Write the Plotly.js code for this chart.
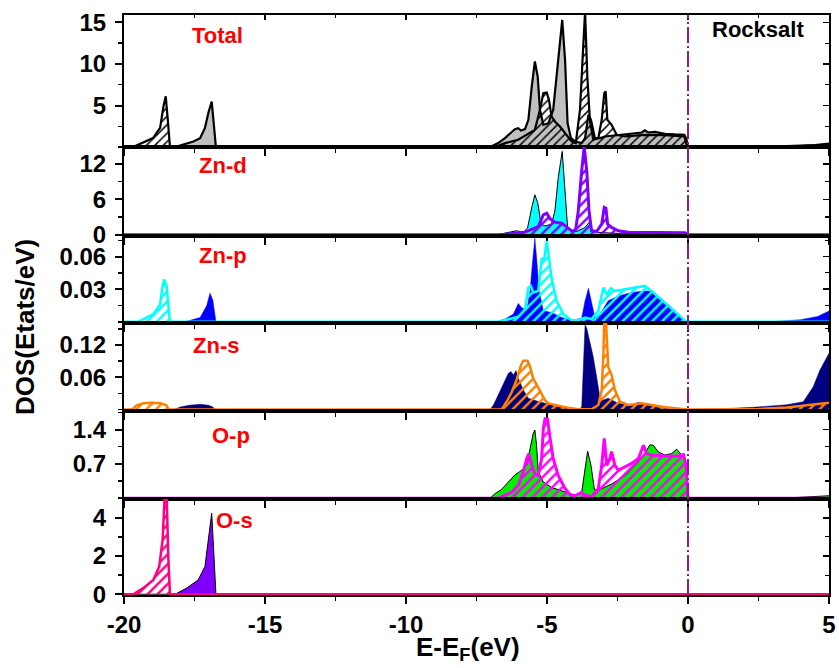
<!DOCTYPE html>
<html>
<head>
<meta charset="utf-8">
<script src="https://cdn.plot.ly/plotly-3.0.1.min.js"></script>
<style>
  html, body { margin: 0; padding: 0; background: #fff; }
  #chart { width: 839px; height: 668px; }
</style>
</head>
<body>
<div id="chart"></div>
<script>
// ---- Energy axis (E - E_F, eV) ----
const xTickVals = [-20, -15, -10, -5, 0, 5];
const xTickText = ['-20', '-15', '-10', '-5', '0', '5'];

// ---- Panel labels ----
const panelNames = ['Total', 'Zn-d', 'Zn-p', 'Zn-s', 'O-p', 'O-s'];
const phaseName = 'Rocksalt';

// ---- Y tick labels per panel ----
const totalTicks = [5, 10, 15];
const totalTickText = ['5', '10', '15'];
const znDTicks = [0, 6, 12];
const znDTickText = ['0', '6', '12'];
const znPTicks = [0.03, 0.06];
const znPTickText = ['0.03', '0.06'];
const znSTicks = [0.06, 0.12];
const znSTickText = ['0.06', '0.12'];
const oPTicks = [0.7, 1.4];
const oPTickText = ['0.7', '1.4'];
const oSTicks = [0, 2, 4];
const oSTickText = ['0', '2', '4'];

// ---- Total DOS ----
const totalSolidE = [-20, -18.19, -17.54, -17.30, -17.13, -17.01, -16.89, -16.83, -16.74,
  -7.02, -6.73, -6.49, -6.31, -6.14, -6.02, -5.92, -5.78, -5.66, -5.54, -5.43, -5.33, -5.25, -5.13,
  -4.95, -4.78, -4.66, -4.54, -4.46, -4.36, -4.27, -4.15, -4.01, -3.77, -3.65, -3.53, -3.44, -3.30,
  -3.12, -2.94, -2.71, -2.47, -2.0, -1.64, -1.53, -1.41, -1.17, -0.82, -0.46, -0.13, -0.06, 0, 0.05,
  2.0, 3.5, 4.5, 5];
const totalSolidDOS = [0, 0, 0.67, 1.07, 2.3, 4.1, 5.48, 3.4, 0,
  0, 0.47, 1.07, 1.59, 2.15, 2.27, 1.99, 2.15, 3.28, 7.29, 10.3, 8.5, 4.48, 2.67,
  2.87, 4.48, 8.5, 13.3, 15.3, 10.5, 2.87, 1.07, 0.67, 0.47, 1.07, 3.9, 3.28, 1.07,
  1.07, 1.27, 1.35, 1.43, 1.59, 1.75, 2.0, 1.75, 1.83, 1.59, 1.51, 1.47, 1.0, 0, 0,
  0.03, 0.1, 0.22, 0.4];
const totalHatchE = [-20, -19.68, -18.97, -18.72, -18.60, -18.52, -18.45, -18.37,
  -6.85, -6.49, -6.02, -5.72, -5.43, -5.25, -5.13, -5.01, -4.93, -4.84, -4.72, -4.54, -4.30,
  -4.13, -3.98, -3.83, -3.74, -3.65, -3.57, -3.48, -3.36, -3.18, -3.06, -2.97, -2.92, -2.86,
  -2.71, -2.53, -2.23, -1.52, -0.82, -0.13, -0.03, 0.05, 2.5, 4, 5];
const totalHatchDOS = [0, 0, 1.07, 2.3, 4.9, 6.1, 3.4, 0,
  0, 0.47, 0.87, 1.47, 2.07, 4.48, 6.49, 6.57, 5.68, 3.68, 3.08, 2.47, 1.47,
  0.67, 0.47, 4.48, 10.5, 16.3, 8.5, 3.28, 0.87, 1.07, 3.28, 6.49, 6.7, 3.28,
  2.67, 1.47, 1.27, 1.47, 1.43, 1.27, 0, 0, 0.02, 0.1, 0.25];

// ---- Zn-d PDOS ----
const znDSolidE = [-20, -6.84, -6.49, -6.08, -5.84, -5.69, -5.54, -5.43, -5.33, -5.21, -5.07,
  -4.84, -4.72, -4.60, -4.46, -4.36, -4.27, -4.15, -3.95, -3.65, -3.51, -3.36, -3.12, -2.47,
  -0.11, 0, 5];
const znDSolidDOS = [0, 0, 0.28, 0.68, 0.45, 1.14, 4.63, 6.76, 5.46, 1.8, 1.5,
  1.8, 4.05, 9.7, 14.1, 6.9, 1.24, 0.56, 0.56, 1.24, 2.08, 0.56, 0.39, 0.23,
  0.2, 0, 0];
const znDHatchE = [-20, -6.61, -5.78, -5.31, -5.13, -5.01, -4.89, -4.72, -4.48, -4.24, -4.10,
  -3.98, -3.89, -3.77, -3.68, -3.59, -3.51, -3.42, -3.24, -3.06, -2.97, -2.91, -2.85, -2.71,
  -2.47, -2.12, -0.11, 0, 5];
const znDHatchDOS = [0, 0, 0.45, 1.4, 3.38, 3.66, 2.7, 2.14, 1.97, 1.12, 0.56,
  0.96, 4.05, 10.8, 14.9, 10.8, 4.05, 0.68, 0.56, 1.8, 4.63, 4.5, 1.8, 1.24,
  0.68, 0.45, 0.34, 0, 0];

// ---- Zn-p PDOS ----
const znPSolidE = [-20, -17.84, -17.30, -17.07, -16.95, -16.85, -16.74,
  -6.79, -6.49, -6.19, -6.02, -5.90, -5.72, -5.60, -5.51, -5.43, -5.36, -5.28, -5.13, -4.84,
  -4.48, -4.07, -3.77, -3.65, -3.53, -3.42, -3.30, -3.12, -2.83, -2.47, -2.0, -1.53, -1.29,
  -0.93, -0.46, -0.11, 0, 2.9, 4.0, 4.6, 5];
const znPSolidDOS = [0, 0, 0.004, 0.0147, 0.0263, 0.02, 0,
  0, 0.0025, 0.0071, 0.0169, 0.0132, 0.0101, 0.0284, 0.056, 0.0768, 0.056, 0.0284, 0.0101, 0.0086,
  0.004, 0.0015, 0.0034, 0.0193, 0.0309, 0.0193, 0.004, 0.0071, 0.0193, 0.0238, 0.027, 0.0284, 0.028,
  0.021, 0.0101, 0.001, 0, 0, 0.002, 0.005, 0.01];
const znPHatchE = [-20, -19.5, -18.96, -18.72, -18.63, -18.57, -18.49, -18.43, -18.37,
  -6.73, -6.02, -5.78, -5.66, -5.57, -5.49, -5.31, -5.19, -5.09, -5.01, -4.93, -4.84, -4.66,
  -4.42, -4.13, -3.89, -3.65, -3.42, -3.18, -3.0, -2.88, -2.73, -2.59, -2.23, -1.76, -1.53,
  -1.29, -0.82, -0.34, -0.05, 5];
const znPHatchDOS = [0, 0, 0.007, 0.016, 0.033, 0.039, 0.033, 0.014, 0,
  0, 0.0046, 0.0116, 0.0315, 0.033, 0.027, 0.0284, 0.0575, 0.059, 0.0743, 0.059, 0.0407, 0.0193,
  0.0071, 0.0015, 0.0015, 0.004, 0.0025, 0.0101, 0.0315, 0.0254, 0.0309, 0.0284, 0.03, 0.0315, 0.033,
  0.0284, 0.0177, 0.0071, 0, 0];

// ---- Zn-s PDOS ----
const znSSolidE = [-20, -18.23, -18.0, -17.7, -17.3, -17.0, -16.85, -16.77,
  -7.02, -6.90, -6.73, -6.55, -6.37, -6.28, -6.19, -6.10, -6.02, -5.84, -5.66, -5.31, -4.83,
  -4.24, -3.89, -3.77, -3.71, -3.65, -3.59, -3.47, -3.36, -3.24, -3.12, -3.0, -2.83, -2.47,
  -2.0, -1.76, -1.53, -1.05, -0.46, 0, 1.0, 2.32, 3.5, 4.09, 4.44, 4.68, 5];
const znSSolidDOS = [0, 0, 0.005, 0.008, 0.0098, 0.008, 0.005, 0,
  0, 0.0085, 0.027, 0.0457, 0.0674, 0.0706, 0.0643, 0.0725, 0.058, 0.0364, 0.021, 0.015, 0.0085,
  0.0024, 0.0005, 0.0045, 0.092, 0.157, 0.151, 0.126, 0.098, 0.061, 0.021, 0.018, 0.021, 0.0117,
  0.0085, 0.0135, 0.0104, 0.004, 0.0011, 0, 0.001, 0.0043, 0.009, 0.0147, 0.0425, 0.0736, 0.1046];
const znSHatchE = [-20, -19.72, -19.55, -19.3, -19.0, -18.7, -18.5, -18.42,
  -6.61, -6.43, -6.25, -6.08, -5.92, -5.84, -5.69, -5.60, -5.49, -5.31, -5.07, -4.95, -4.72,
  -4.36, -3.89, -3.42, -3.18, -3.06, -3.0, -2.97, -2.91, -2.83, -2.71, -2.59, -2.41, -2.12,
  -1.64, -1.29, -0.82, -0.11, 0, 2.5, 3.5, 5];
const znSHatchDOS = [0, 0, 0.008, 0.012, 0.0128, 0.012, 0.008, 0,
  0, 0.0146, 0.0327, 0.055, 0.0829, 0.0909, 0.0909, 0.0797, 0.058, 0.0396, 0.0176, 0.0116, 0.0085,
  0.0042, 0.0005, 0.0005, 0.0085, 0.0364, 0.1046, 0.166, 0.166, 0.0797, 0.0643, 0.0364, 0.0146, 0.0085,
  0.0116, 0.0085, 0.0042, 0.0005, 0, 0.001, 0.004, 0.0128];

// ---- O-p PDOS ----
const oPSolidE = [-20, -7.02, -6.84, -6.61, -6.37, -6.13, -6.02, -5.90, -5.72, -5.60, -5.49,
  -5.43, -5.37, -5.31, -5.13, -4.84, -4.36, -4.01, -3.77, -3.65, -3.56, -3.44, -3.32, -3.18,
  -2.71, -2.23, -1.76, -1.53, -1.35, -1.23, -1.05, -0.82, -0.58, -0.40, -0.28, -0.13, -0.05,
  0.03, 3.5, 5];
const oPSolidDOS = [0, 0, 0.094, 0.18, 0.33, 0.48, 0.52, 0.57, 0.67, 1.01, 1.32,
  1.39, 1.08, 0.54, 0.33, 0.22, 0.12, 0.06, 0.12, 0.60, 0.96, 0.67, 0.18, 0.16,
  0.29, 0.46, 0.74, 0.91, 1.09, 1.08, 0.94, 0.88, 0.91, 1.0, 0.91, 0.81, 0.47,
  0, 0.005, 0.05];
const oPHatchE = [-20, -6.73, -6.25, -6.02, -5.84, -5.72, -5.64, -5.54, -5.43, -5.31, -5.19,
  -5.13, -5.07, -4.98, -4.89, -4.78, -4.60, -4.36, -4.18, -4.01, -3.77, -3.65, -3.42, -3.18,
  -3.06, -2.97, -2.88, -2.77, -2.71, -2.59, -2.47, -2.0, -1.76, -1.58, -1.47, -1.29, -0.82,
  -0.34, -0.16, -0.07, 0, 5];
const oPHatchDOS = [0, 0, 0.12, 0.26, 0.54, 0.81, 0.91, 0.67, 0.49, 0.46, 0.81,
  1.42, 1.62, 1.61, 1.22, 0.81, 0.46, 0.2, 0.07, 0.05, 0.12, 0.06, 0.03, 0.2,
  0.67, 1.22, 0.67, 0.81, 0.95, 0.67, 0.57, 0.71, 0.81, 1.08, 0.91, 0.88, 0.86,
  0.86, 0.89, 0.67, 0, 0];

// ---- O-s PDOS ----
const oSSolidE = [-20, -18.19, -17.78, -17.37, -17.13, -17.01, -16.89, -16.84, -16.74, 5];
const oSSolidDOS = [0, 0, 0.32, 0.75, 1.45, 2.86, 4.23, 2.86, 0, 0];
const oSHatchE = [-20, -19.67, -19.32, -18.96, -18.75, -18.63, -18.55, -18.49, -18.43, -18.37, 5];
const oSHatchDOS = [0, 0, 0.32, 0.75, 1.45, 2.86, 5.4, 5.4, 1.98, 0, 0];

const FONT = 'Liberation Sans, Arial, sans-serif';

function solidTrace(x, y, n, fill, line, width) {
  return {
    type: 'scatter', mode: 'lines', x: x, y: y,
    xaxis: n === 1 ? 'x' : 'x' + n, yaxis: n === 1 ? 'y' : 'y' + n,
    fill: 'tozeroy', fillcolor: fill,
    line: { color: line, width: width },
    hoverinfo: 'skip', showlegend: false
  };
}

function hatchTrace(x, y, n, color, width, size, solidity) {
  return {
    type: 'scatter', mode: 'lines', x: x, y: y,
    xaxis: n === 1 ? 'x' : 'x' + n, yaxis: n === 1 ? 'y' : 'y' + n,
    fill: 'tozeroy', fillcolor: 'rgba(0,0,0,0)',
    fillpattern: { shape: '/', fgcolor: color, bgcolor: 'rgba(0,0,0,0)', size: size, solidity: solidity },
    line: { color: color, width: width },
    hoverinfo: 'skip', showlegend: false
  };
}

const traces = [
  solidTrace(totalSolidE, totalSolidDOS, 1, '#C0C0C0', '#000000', 2.2),
  hatchTrace(totalHatchE, totalHatchDOS, 1, '#000000', 2.2, 6, 0.25),
  solidTrace(znDSolidE, znDSolidDOS, 2, '#00FFFF', '#000000', 1),
  hatchTrace(znDHatchE, znDHatchDOS, 2, '#7F00FF', 3, 7, 0.35),
  solidTrace(znPSolidE, znPSolidDOS, 3, '#0000FF', '#0000FF', 0.5),
  hatchTrace(znPHatchE, znPHatchDOS, 3, '#00FFFF', 2.5, 7, 0.35),
  solidTrace(znSSolidE, znSSolidDOS, 4, '#000080', '#000080', 0.5),
  hatchTrace(znSHatchE, znSHatchDOS, 4, '#FF8000', 2.5, 7, 0.35),
  solidTrace(oPSolidE, oPSolidDOS, 5, '#00F000', '#000000', 1),
  hatchTrace(oPHatchE, oPHatchDOS, 5, '#FF00FF', 3, 7, 0.35),
  solidTrace(oSSolidE, oSSolidDOS, 6, '#8000FF', '#000000', 1),
  hatchTrace(oSHatchE, oSHatchDOS, 6, '#FF0080', 2.5, 7, 0.35)
];

// empty traces so the inward-tick frame axes are drawn
traces.push({ x: [null], y: [null], xaxis: 'x7', yaxis: 'y', mode: 'lines', showlegend: false, hoverinfo: 'skip' });
for (let i = 1; i <= 6; i++) {
  traces.push({ x: [null], y: [null], xaxis: i === 1 ? 'x' : 'x' + i, yaxis: 'y' + (i + 6),
    mode: 'lines', showlegend: false, hoverinfo: 'skip' });
}

const domains = [[0.7724, 1], [0.6195, 0.7724], [0.4695, 0.6195], [0.3178, 0.4695], [0.1655, 0.3178], [0, 0.1655]];
const ranges = [[0, 15.9], [-0.15, 14.85], [-0.0008, 0.0792], [-0.002, 0.1614], [-0.016, 1.784], [-0.04, 4.98]];
const yTicks = [totalTicks, znDTicks, znPTicks, znSTicks, oPTicks, oSTicks];
const yTickText = [totalTickText, znDTickText, znPTickText, znSTickText, oPTickText, oSTickText];
const yMinor = [2.5, 3, 0.015, 0.03, 0.35, 1];

const layout = {
  width: 839, height: 668,
  margin: { l: 124, r: 10, t: 15, b: 73 },
  paper_bgcolor: '#fff', plot_bgcolor: '#fff',
  showlegend: false, hovermode: false,
  font: { family: FONT, color: '#000' },
  shapes: [{
    type: 'line', xref: 'x', yref: 'paper', x0: 0, x1: 0, y0: 0, y1: 1,
    line: { color: '#8E1C8E', width: 2, dash: '16px,3px,2px,3px' }, layer: 'above'
  }],
  annotations: []
};

for (let i = 1; i <= 6; i++) {
  const xs = i === 1 ? 'xaxis' : 'xaxis' + i;
  const ys = i === 1 ? 'yaxis' : 'yaxis' + i;
  layout[xs] = {
    anchor: i === 1 ? 'y' : 'y' + i,
    range: [-20, 5], showgrid: false, zeroline: false,
    showline: true, linecolor: '#000', linewidth: 2, mirror: true,
    ticks: 'outside', ticklen: 7, tickwidth: 2, tickcolor: '#000',
    tickmode: 'array', tickvals: xTickVals, ticktext: xTickText,
    minor: { tickmode: 'linear', tick0: -20, dtick: 2.5, ticks: 'outside', ticklen: 4, tickwidth: 1.5, tickcolor: '#000' },
    showticklabels: i === 6,
    tickfont: { family: FONT, size: 24, weight: 'bold', color: '#000' },
    ticklabelstandoff: 0
  };
  layout[ys] = {
    anchor: i === 1 ? 'x' : 'x' + i,
    domain: domains[i - 1], range: ranges[i - 1],
    showgrid: false, zeroline: false,
    showline: true, linecolor: '#000', linewidth: 2, mirror: true,
    ticks: 'outside', ticklen: 7, tickwidth: 2, tickcolor: '#000',
    tickmode: 'array', tickvals: yTicks[i - 1], ticktext: yTickText[i - 1],
    minor: { tickmode: 'linear', tick0: 0, dtick: yMinor[i - 1], ticks: 'outside', ticklen: 4, tickwidth: 1.5, tickcolor: '#000' },
    tickfont: { family: FONT, size: 24, weight: 'bold', color: '#000' },
    ticklabelstandoff: 4
  };
  // right-hand frame with inward ticks
  layout['yaxis' + (i + 6)] = {
    overlaying: i === 1 ? 'y' : 'y' + i, side: 'right',
    anchor: i === 1 ? 'x' : 'x' + i,
    range: ranges[i - 1], showgrid: false, zeroline: false, showline: false,
    ticks: 'inside', ticklen: 6, tickwidth: 1.5, tickcolor: '#000',
    tickmode: 'array', tickvals: yTicks[i - 1], showticklabels: false,
    minor: { tickmode: 'linear', tick0: 0, dtick: yMinor[i - 1], ticks: 'inside', ticklen: 4, tickwidth: 1.2, tickcolor: '#000' }
  };
}
// top frame with inward ticks
layout.xaxis7 = {
  overlaying: 'x', side: 'top', anchor: 'y', range: [-20, 5],
  showgrid: false, zeroline: false, showline: false,
  ticks: 'inside', ticklen: 5, tickwidth: 1.5, tickcolor: '#000',
  tickmode: 'array', tickvals: xTickVals, showticklabels: false,
  minor: { tickmode: 'linear', tick0: -20, dtick: 2.5, ticks: 'inside', ticklen: 3, tickwidth: 1.2, tickcolor: '#000' }
};

const labelPos = [[0.1333, 0.9655], [0.1411, 0.7405], [0.1411, 0.585], [0.1305, 0.431], [0.1518, 0.275], [0.1567, 0.1293]];
panelNames.forEach((name, k) => {
  layout.annotations.push({
    text: name, xref: 'paper', yref: 'paper', x: labelPos[k][0], y: labelPos[k][1],
    xanchor: 'center', yanchor: 'middle', showarrow: false,
    font: { family: FONT, size: 22, weight: 'bold', color: '#FF0000' }
  });
});
layout.annotations.push({
  text: phaseName, xref: 'paper', yref: 'paper', x: 0.8986, y: 0.975,
  xanchor: 'center', yanchor: 'middle', showarrow: false,
  font: { family: FONT, size: 22, weight: 'bold', color: '#000' }
});
layout.annotations.push({
  text: 'DOS(Etats/eV)', xref: 'paper', yref: 'paper', x: -0.1404, y: 0.4621,
  xanchor: 'center', yanchor: 'middle', textangle: -90, showarrow: false,
  font: { family: FONT, size: 26, weight: 'bold', color: '#000' }
});
layout.annotations.push({
  text: 'E-E<sub>F</sub>(eV)', xref: 'paper', yref: 'paper', x: 0.488, y: -0.0931,
  xanchor: 'center', yanchor: 'middle', showarrow: false,
  font: { family: FONT, size: 26, weight: 'bold', color: '#000' }
});

Plotly.newPlot('chart', traces, layout, { displayModeBar: false, staticPlot: true });
</script>
</body>
</html>
